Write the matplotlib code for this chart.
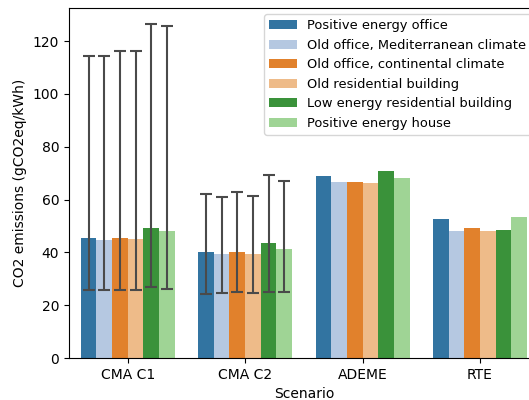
import matplotlib
matplotlib.use("Agg")
import matplotlib.pyplot as plt
import numpy as np
import seaborn as sns

scenarios = ["CMA C1", "CMA C2", "ADEME", "RTE"]
buildings = ["Positive energy office",
             "Old office, Mediterranean climate",
             "Old office, continental climate",
             "Old residential building",
             "Low energy residential building",
             "Positive energy house"]

# mean per scenario (rows) and building (columns)
means = [
    [45.4, 44.6, 45.4, 45.0, 49.2, 48.1],
    [40.1, 39.3, 40.1, 39.3, 43.6, 41.3],
    [68.8, 66.8, 66.8, 66.2, 70.8, 68.3],
    [52.6, 47.9, 49.3, 47.9, 48.6, 53.3],
]
# error bar limits (only CMA scenarios have them)
err_low = [
    [25.9, 25.6, 25.9, 25.6, 27.0, 26.3],
    [24.2, 24.6, 25.0, 24.6, 25.0, 25.0],
]
err_high = [
    [114.4, 114.4, 116.3, 116.3, 126.3, 125.7],
    [62.1, 61.1, 62.9, 61.5, 69.1, 67.1],
]

colors = sns.color_palette("tab20", 6, desat=0.75)

fig = plt.figure(figsize=(5.29, 4.0), dpi=100)
ax = fig.add_axes([0.1304, 0.105, 0.888, 0.875])

n = len(buildings)
group_w = 0.8
bw = group_w / n
x = np.arange(len(scenarios))
means = np.array(means)

for j in range(n):
    pos = x - group_w / 2 + bw * (j + 0.5)
    ax.bar(pos, means[:, j], width=bw, color=colors[j], label=buildings[j])
    for i in range(len(err_low)):
        m = means[i, j]
        ax.errorbar(pos[i], m, yerr=[[m - err_low[i][j]], [err_high[i][j] - m]],
                    fmt="none", ecolor="#4a4a4a", elinewidth=1.5, capsize=4,
                    capthick=1.5)

ax.set_xticks(x)
ax.set_xticklabels(scenarios)
ax.set_xlim(-0.5, 3.5)
ax.set_ylim(0, 132.5)
ax.set_xlabel("Scenario")
ax.set_ylabel("CO2 emissions (gCO2eq/kWh)")
ax.legend(loc="upper left", bbox_to_anchor=(264 / 529, 1 - 14 / 400),
          bbox_transform=fig.transFigure, borderaxespad=0, fontsize=9.4,
          handlelength=2.1)

fig.savefig("out.png", dpi=100)
